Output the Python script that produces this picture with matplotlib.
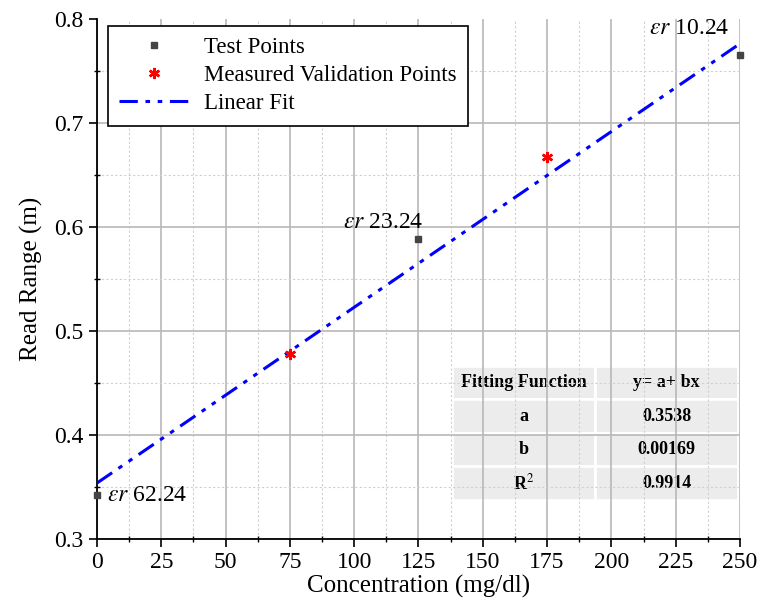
import matplotlib
matplotlib.use("Agg")
import matplotlib.pyplot as plt
import numpy as np
from matplotlib.ticker import MultipleLocator

plt.rcParams['font.family'] = ['Liberation Serif', 'DejaVu Serif']
plt.rcParams['mathtext.fontset'] = 'stix'

test_x = [0, 125, 250]
test_y = [0.342, 0.588, 0.765]
val_x = [75, 175]
val_y = [0.478, 0.667]
fit_a = 0.3538
fit_b = 0.00169
table_rows = [["Fitting Function", "y= a+ bx"],
              ["a", "0.3538"],
              ["b", "0.00169"],
              ["R$^2$", "0.9914"]]

fig = plt.figure(figsize=(7.62, 6.15), dpi=100)
ax = fig.add_axes([0.1273, 0.1236, 0.8438, 0.8455])

ax.set_xlim(0, 250)
ax.set_ylim(0.3, 0.8)
ax.xaxis.set_major_locator(MultipleLocator(25))
ax.xaxis.set_minor_locator(MultipleLocator(12.5))
ax.yaxis.set_major_locator(MultipleLocator(0.1))
ax.yaxis.set_minor_locator(MultipleLocator(0.05))
ax.grid(which='major', color='#b8b8b8', linewidth=1.2, linestyle='-')
ax.grid(which='minor', color='#d0d0d0', linewidth=0.8, linestyle=(0, (2, 2)))
ax.set_axisbelow(True)
ax.tick_params(which='major', direction='out', length=6, width=1.2, labelsize=17)
ax.tick_params(which='minor', direction='inout', length=5, width=1)
ax.spines['top'].set_visible(False)
ax.spines['right'].set_visible(False)
for s in ('left', 'bottom'):
    ax.spines[s].set_linewidth(1.3)
ax.yaxis.set_major_formatter(matplotlib.ticker.FuncFormatter(lambda v, p: f"{v:g}"))

xf = np.array([0, 250])
ax.plot(xf, fit_a + fit_b * xf, color='#0000ff', linewidth=2.2,
        linestyle=(0, (6, 2.5, 1.5, 2.5, 1.5, 2.5)), label='Linear Fit', zorder=3)
ax.plot(test_x, test_y, linestyle='none', marker='s', markersize=5,
        color='#444444', label='Test Points', zorder=4, clip_on=False)
ax.plot(val_x, val_y, linestyle='none', marker=(6, 2, 0), markersize=8,
        markeredgewidth=1.8, color='red', markeredgecolor='red',
        label='Measured Validation Points', zorder=5)

ax.text(4, 0.342, r'$\varepsilon r$ 62.24', fontsize=17, va='center', ha='left')
ax.text(127, 0.594, r'$\varepsilon r$ 23.24', fontsize=17, va='bottom', ha='right')
ax.text(246, 0.801, r'$\varepsilon r$ 10.24', fontsize=17, va='top', ha='right')

h, l = ax.get_legend_handles_labels()
order = [1, 2, 0]
leg = ax.legend([h[i] for i in order], [l[i] for i in order], loc='upper left',
                bbox_to_anchor=(0.017, 0.987), borderaxespad=0, fontsize=16.5,
                handlelength=3.0, fancybox=False, framealpha=1, edgecolor='black',
                borderpad=0.5, labelspacing=0.3, handletextpad=0.7)
leg.get_frame().set_linewidth(1.2)

tbl = ax.table(cellText=table_rows, bbox=[0.552, 0.075, 0.445, 0.258], cellLoc='center')
tbl.auto_set_font_size(False)
for (r, c), cell in tbl.get_celld().items():
    cell.set_facecolor('#ececec')
    cell.set_edgecolor('white')
    cell.set_linewidth(2)
    cell.get_text().set_fontsize(13)
    cell.get_text().set_fontweight('bold')

ax.set_xlabel('Concentration (mg/dl)', fontsize=18, labelpad=1)
ax.set_ylabel('Read Range (m)', fontsize=18, labelpad=8)

fig.canvas.draw()
for t in ax.yaxis.get_major_ticks():
    if abs(t.get_loc() - 0.8) < 1e-9:
        t.gridline.set_visible(False)

fig.savefig('out.png', dpi=100)
